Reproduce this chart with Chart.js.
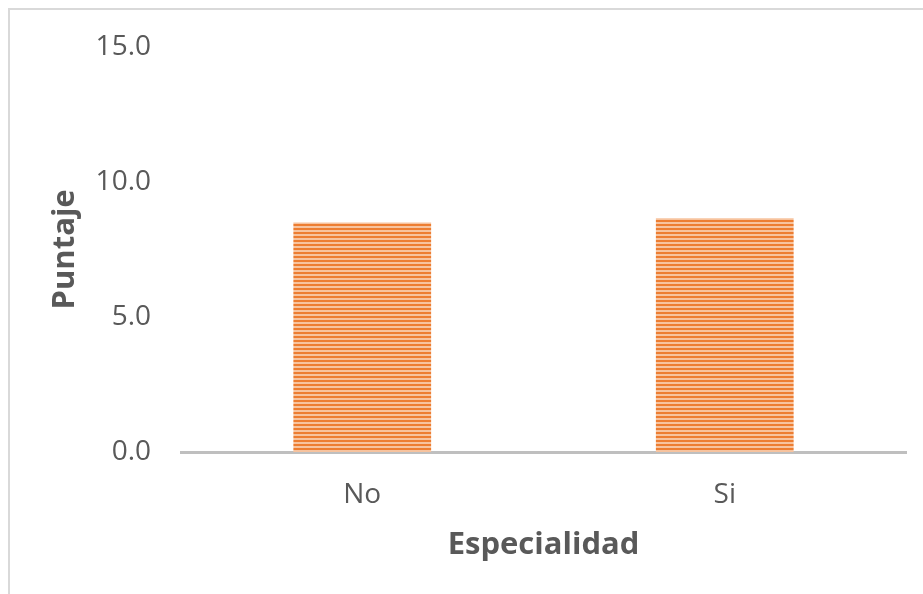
<!DOCTYPE html>
<html>
<head>
<meta charset="utf-8">
<script src="https://cdn.jsdelivr.net/npm/chart.js@4"></script>
<style>
  html, body { margin: 0; padding: 0; background: #fff; }
  #wrap { position: relative; width: 923px; height: 594px; overflow: hidden; }
  #frame { position: absolute; left: 8px; top: 8px; width: 930px; height: 600px;
           border-top: 2px solid #D9D9D9; border-left: 2px solid #D9D9D9; pointer-events: none; }
  canvas { position: absolute; left: 0; top: 0; }
</style>
</head>
<body>
<div id="wrap">
  <canvas id="c" width="923" height="594"></canvas>
  <div id="frame"></div>
</div>
<script>
const categories = ["No", "Si"];
const puntaje = [8.5, 8.65];
const yTicks = [0, 5, 10, 15];
const xTitle = "Especialidad";
const yTitle = "Puntaje";

function stripePattern() {
  const p = document.createElement('canvas');
  p.width = 8; p.height = 4;
  const g = p.getContext('2d');
  g.fillStyle = '#F7C39E'; g.fillRect(0, 0, 8, 4);
  g.fillStyle = '#ED7D31'; g.fillRect(0, 0, 8, 2);
  return document.getElementById('c').getContext('2d').createPattern(p, 'repeat');
}

const fontFam = "'Open Sans', 'Noto Sans', sans-serif";

new Chart(document.getElementById('c'), {
  type: 'bar',
  data: {
    labels: categories,
    datasets: [{
      data: puntaje,
      backgroundColor: stripePattern(),
      borderWidth: 0,
      barPercentage: 0.38,
      categoryPercentage: 1.0
    }]
  },
  options: {
    responsive: false,
    animation: false,
    devicePixelRatio: 1,
    layout: { padding: { left: 0, top: 41, right: 17, bottom: 0 } },
    plugins: { legend: { display: false }, tooltip: { enabled: false } },
    scales: {
      x: {
        grid: { display: false, drawTicks: false },
        border: { display: true, color: '#BFBFBF', width: 3 },
        ticks: { color: '#595959', font: { family: fontFam, size: 28 }, padding: 26 },
        title: { display: true, text: xTitle, color: '#595959',
                 font: { family: fontFam, size: 31, weight: 'bold' },
                 padding: { top: 0, bottom: 30 } },
        afterFit(s) { s.height = 142; }
      },
      y: {
        min: 0, max: 15,
        afterBuildTicks(s) { s.ticks = yTicks.map(v => ({ value: v })); },
        grid: { display: false, drawTicks: false },
        border: { display: false },
        ticks: { color: '#595959', font: { family: fontFam, size: 28 }, padding: 30,
                 callback: v => Number(v).toFixed(1) },
        title: { display: true, text: yTitle, color: '#595959',
                 font: { family: fontFam, size: 31, weight: 'bold' },
                 padding: { top: 47, bottom: 0 } },
        afterFit(s) { s.width = 181; }
      }
    }
  }
});
</script>
</body>
</html>
